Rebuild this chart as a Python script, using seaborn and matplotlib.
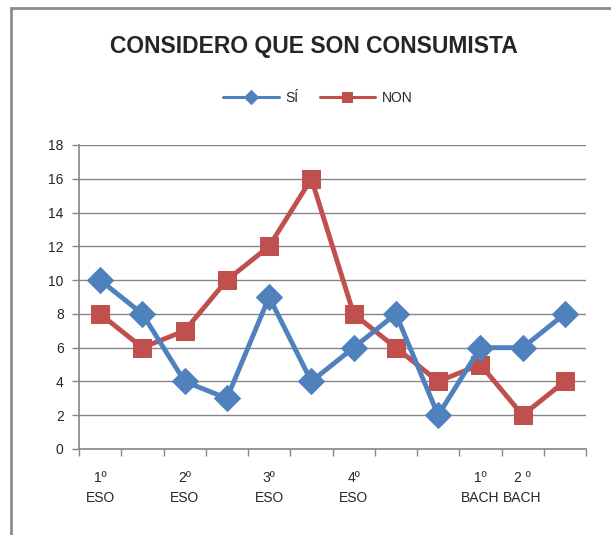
import matplotlib
matplotlib.use("Agg")
import matplotlib.pyplot as plt
import seaborn as sns
import pandas as pd
from matplotlib.patches import Rectangle

categories = ["1º\nESO", "", "2º\nESO", "", "3º\nESO", "", "4º\nESO", "", "", "1º\nBACH", "2 º\nBACH", ""]
si_values = [10, 8, 4, 3, 9, 4, 6, 8, 2, 6, 6, 8]
non_values = [8, 6, 7, 10, 12, 16, 8, 6, 4, 5, 2, 4]
series_names = ["SÍ", "NON"]
title = "CONSIDERO QUE SON CONSUMISTA"

sns.set_theme(style="white")
plt.rcParams['font.family'] = ['Liberation Sans', 'DejaVu Sans']

fig = plt.figure(figsize=(6.11, 5.35), dpi=100)
ax = fig.add_axes([79/611, 1-449/535, (586-79)/611, (449-145)/535])

pos = list(range(len(categories)))
df = pd.DataFrame({"x": pos * 2,
                   "y": si_values + non_values,
                   "s": [series_names[0]] * len(pos) + [series_names[1]] * len(pos)})

blue = "#4F81BD"
red = "#C0504D"
sns.lineplot(data=df[df.s == series_names[0]], x="x", y="y", ax=ax, color=blue, lw=3.5,
             marker="D", markersize=13.5, markeredgecolor=blue, label=series_names[0], zorder=3)
sns.lineplot(data=df[df.s == series_names[1]], x="x", y="y", ax=ax, color=red, lw=3.5,
             marker="s", markersize=13.5, markeredgecolor=red, label=series_names[1], zorder=2)

ax.set_xlim(-0.5, len(categories) - 0.5)
ax.set_ylim(0, 18)
ax.set_yticks(range(0, 19, 2))
ax.set_xticks([p - 0.5 for p in pos] + [len(pos) - 0.5], minor=False)
ax.set_xticklabels([""] * (len(pos) + 1))
ax.set_xticks(pos, minor=True)
ax.set_xticklabels(categories, minor=True, fontsize=10, ha="center", va="top", linespacing=1.5)
ax.tick_params(axis="x", which="minor", length=0, pad=16)
ax.tick_params(axis="x", which="major", length=5, width=1, color="#868686", direction="out", bottom=True)
ax.tick_params(axis="y", length=5, width=1, color="#868686", direction="out", left=True, labelsize=10, pad=6)
ax.yaxis.grid(True, color="#868686", lw=1)
ax.set_axisbelow(True)
for s in ["top", "right"]:
    ax.spines[s].set_visible(False)
for s in ["left", "bottom"]:
    ax.spines[s].set_color("#868686")
    ax.spines[s].set_linewidth(1.2)
ax.set_xlabel("")
ax.set_ylabel("")
for lab in ax.get_xticklabels(minor=True):
    lab.set_multialignment("center")

leg = ax.legend(loc="center", bbox_to_anchor=(318/611, 1-98/535), bbox_transform=fig.transFigure,
                ncol=2, frameon=False, fontsize=10, handlelength=4, columnspacing=1.5, handletextpad=0.5)
for h in leg.legend_handles:
    h.set_linewidth(2.2)
    h.set_markersize(7)

fig.text(314/611, 1-47/535, title, ha="center", va="center", fontsize=16.5, fontweight="bold")

fig.patches.append(Rectangle((11/611, -0.05), 1.2, 1 - 8/535 + 0.05, transform=fig.transFigure,
                             fill=False, edgecolor="#8c8c8c", lw=2))

fig.savefig("out.png", dpi=100)
